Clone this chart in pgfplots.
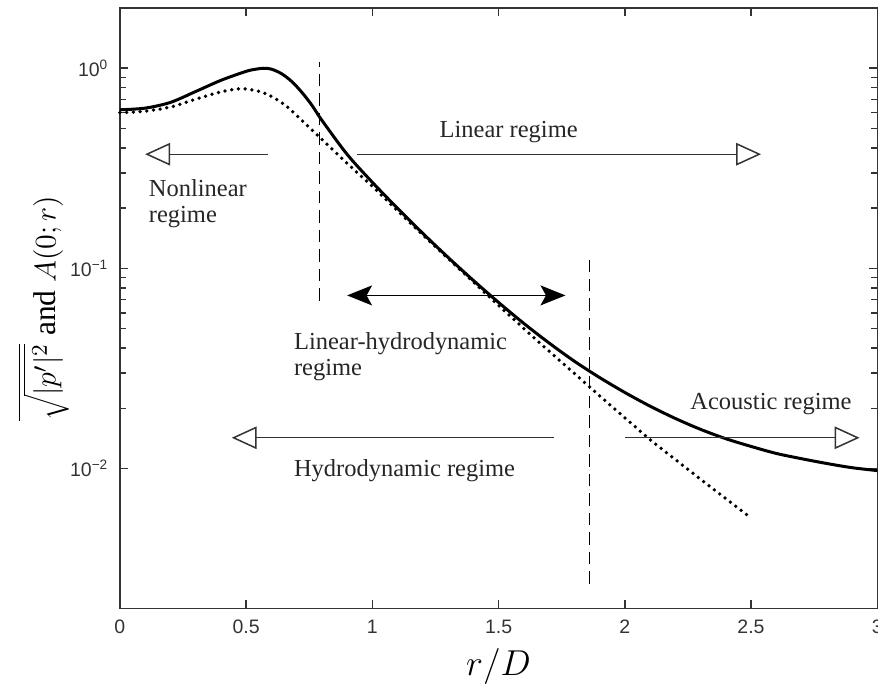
\documentclass[border=0pt]{standalone}
\usepackage{fontspec}
\setmainfont{Liberation Serif}
\newfontfamily\tickfont{Liberation Sans}
\usepackage{pgfplots}
\pgfplotsset{compat=1.18}
\usetikzlibrary{arrows.meta,calc}

\definecolor{axisgray}{HTML}{333333}

\begin{document}
\begin{tikzpicture}
\begin{axis}[
  name=ax,
  scale only axis,
  width=303.2pt, height=240.4pt,
  xmin=0, xmax=3,
  ymode=log, ymin=0.002, ymax=2,
  xtick={0,0.5,1,1.5,2,2.5,3},
  xticklabels={0,0.5,1,1.5,2,2.5,3},
  ytick={0.01,0.1,1},
  yticklabels={10\textsuperscript{−2},10\textsuperscript{−1},10\textsuperscript{0}},
  tick align=inside,
  major tick length=3.4pt,
  minor tick length=2.6pt,
  axis line style={axisgray, line width=0.6pt},
  every tick/.style={axisgray, line width=0.6pt},
  ticklabel style={font=\tickfont\fontsize{7.8}{9}\selectfont, text=axisgray},
  xticklabel style={yshift=-1pt},
  yticklabel style={xshift=-1pt},
  xlabel={$r/D$},
  ylabel={$\overline{\sqrt{|p'|^2}}\ \mathrm{and}\ A(0;r)$},
  label style={font=\fontsize{12.6}{15}\selectfont},
  xlabel style={yshift=1pt, font=\fontsize{13.5}{16}\selectfont},
  ylabel style={yshift=-6.5pt},
  clip=false,
]

% r.m.s. pressure (solid)
\addplot[black, line width=1.2pt, smooth, tension=0.5] coordinates {
 (0,0.62) (0.1,0.632) (0.2,0.675) (0.3,0.765) (0.4,0.87) (0.5,0.965)
 (0.54,0.99) (0.57,1.0) (0.6,0.99) (0.64,0.94) (0.68,0.86) (0.72,0.76)
 (0.76,0.655) (0.8,0.550)
 (0.9,0.3715) (1.0,0.2692) (1.1,0.1995) (1.2,0.1496) (1.3,0.1135)
 (1.4,0.0871) (1.5,0.0676) (1.6,0.0531) (1.7,0.0424) (1.8,0.0344)
 (1.9,0.0285) (2.0,0.0240) (2.1,0.0205) (2.2,0.0178) (2.3,0.0157)
 (2.4,0.0141) (2.5,0.0129) (2.6,0.0119) (2.7,0.0112) (2.8,0.0106)
 (2.9,0.0101) (3.0,0.00977)
};

% A(0;r) (dotted)
\addplot[black, line width=1.5pt, line cap=round, dash pattern=on 0pt off 2.7pt, smooth, tension=0.5] coordinates {
 (0,0.60) (0.1,0.61) (0.2,0.64) (0.3,0.70) (0.4,0.762) (0.48,0.79)
 (0.55,0.767) (0.6,0.724) (0.66,0.646) (0.72,0.55) (0.8,0.4416)
 (0.9,0.335) (1.0,0.257) (1.1,0.194) (1.2,0.147) (1.3,0.112)
 (1.4,0.0855) (1.5,0.0653) (1.6,0.0501) (1.7,0.0386) (1.8,0.0299)
 (1.9,0.0231) (2.0,0.01795) (2.1,0.01396) (2.2,0.0111) (2.3,0.00885)
 (2.4,0.00708) (2.49,0.00579)
};

% regime boundaries
\addplot[black, line width=0.6pt, dash pattern=on 5pt off 2.8pt] coordinates {(0.79,0.069) (0.79,1.07)};
\addplot[black, line width=0.6pt, dash pattern=on 5pt off 2.8pt] coordinates {(1.86,0.00266) (1.86,0.11)};

% regime arrows
\addplot[axisgray, line width=0.5pt, -{Triangle[open, length=10pt, width=9pt, line width=0.6pt]}] coordinates {(0.585,0.372) (0.10,0.372)};
\addplot[axisgray, line width=0.5pt, -{Triangle[open, length=10pt, width=9pt, line width=0.6pt]}] coordinates {(0.94,0.372) (2.54,0.372)};
\addplot[black, line width=0.6pt, {Stealth[length=10pt, width=8pt, inset=2.2pt]}-{Stealth[length=10pt, width=8pt, inset=2.2pt]}] coordinates {(0.90,0.0733) (1.765,0.0733)};
\addplot[axisgray, line width=0.5pt, -{Triangle[open, length=10pt, width=9pt, line width=0.6pt]}] coordinates {(1.72,0.01425) (0.443,0.01425)};
\addplot[axisgray, line width=0.5pt, -{Triangle[open, length=10pt, width=9pt, line width=0.6pt]}] coordinates {(2.0,0.01425) (2.93,0.01425)};

% regime names
\begin{scope}[every node/.style={font=\fontsize{9.8}{10.6}\selectfont, text=black!85}]
\node at (axis cs:1.54,0.479) {Linear regime};
\node[anchor=west, align=left] at (axis cs:0.08,0.211) {Nonlinear\\regime};
\node[anchor=west, align=left] at (axis cs:0.655,0.0363) {Linear-hydrodynamic\\regime};
\node[anchor=west] at (axis cs:2.225,0.0209) {Acoustic regime};
\node[anchor=west] at (axis cs:0.655,0.0098) {Hydrodynamic regime};
\end{scope}
\end{axis}
\pgfresetboundingbox
\path[use as bounding box] ($(ax.south west)+(-48pt,-30pt)$) rectangle ($(ax.north east)+(0.3pt,3.2pt)$);
\end{tikzpicture}
\end{document}
